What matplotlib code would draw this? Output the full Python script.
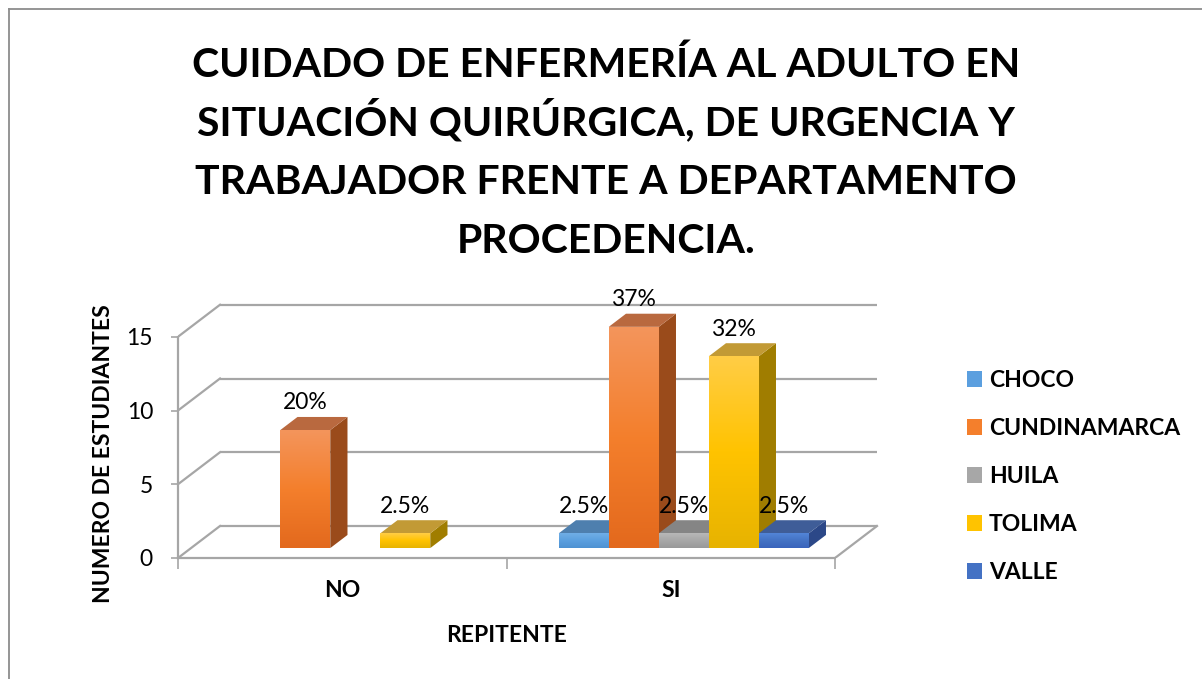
import numpy as np
import matplotlib
matplotlib.use("Agg")
import matplotlib.pyplot as plt
from matplotlib.patches import Polygon
from matplotlib.colors import LinearSegmentedColormap
from matplotlib.lines import Line2D
from matplotlib.font_manager import FontProperties

# ---- data -------------------------------------------------------------
categories = ["NO", "SI"]
series_names = ["CHOCO", "CUNDINAMARCA", "HUILA", "TOLIMA", "VALLE"]

choco = [0, 1]
cundinamarca = [8, 15]
huila = [0, 1]
tolima = [1, 13]
valle = [0, 1]

choco_pct = [0, 2.5]
cundinamarca_pct = [20, 37]
huila_pct = [0, 2.5]
tolima_pct = [2.5, 32]
valle_pct = [0, 2.5]

y_ticks = [0, 5, 10, 15]

title_lines = ["CUIDADO DE ENFERMERÍA AL ADULTO EN",
               "SITUACIÓN QUIRÚRGICA, DE URGENCIA Y",
               "TRABAJADOR FRENTE A DEPARTAMENTO",
               "PROCEDENCIA."]
x_title = "REPITENTE"
y_title = "NUMERO DE ESTUDIANTES"

values = [choco, cundinamarca, huila, tolima, valle]
pcts = [choco_pct, cundinamarca_pct, huila_pct, tolima_pct, valle_pct]

# face colours: (front top, front middle, front bottom, top face, side face)
styles = [
    ("#70AEE6", "#5B9FDF", "#4E92D2", "#4E7FAE", "#3E6C9A"),
    ("#F3955C", "#F47F2C", "#E3691D", "#B9693F", "#9A4B1B"),
    ("#B8B8B8", "#A7A7A7", "#999999", "#858585", "#6F6F6F"),
    ("#FFCD46", "#FFC300", "#E7B300", "#C29A35", "#A07D00"),
    ("#5285D8", "#4472C4", "#3A64BC", "#3F5D98", "#2C4888"),
]

# ---- figure / axes layout (pixel based) -------------------------------
W, H = 1202, 679
fig = plt.figure(figsize=(W / 100, H / 100), dpi=100)
fig.patch.set_facecolor("white")

AX_L, AX_R, AX_T, AX_B = 178, 880, 296, 558
PX_X = 328.5      # pixels per category step
PX_Y = 14.75      # pixels per student
ax = fig.add_axes([AX_L / W, 1 - AX_B / H, (AX_R - AX_L) / W, (AX_B - AX_T) / H])
xmin, xmax = -0.5, -0.5 + (AX_R - AX_L) / PX_X
ymin, ymax = 0, (AX_B - AX_T) / PX_Y

DX = 42 / PX_X    # depth of the plot box, in data units
DY = 32 / PX_Y
F0, F1 = 0.31, 0.72   # front / back depth fraction of the bars
BW = 50 / PX_X        # bar width

grid_c = "#A6A6A6"
grid_lw = 1.6

# back wall gridlines and side-wall diagonals
x_front_l, x_front_r = -0.5, len(categories) - 0.5
for v in y_ticks:
    ax.plot([x_front_l + DX, x_front_r + DX], [v + DY, v + DY],
            color=grid_c, lw=grid_lw, solid_capstyle="butt", zorder=1)
    ax.plot([x_front_l, x_front_l + DX], [v, v + DY],
            color=grid_c, lw=grid_lw, zorder=1)
# right edge of the floor
ax.plot([x_front_r, x_front_r + DX], [0, DY], color=grid_c, lw=grid_lw, zorder=1)

# ---- bars ---------------------------------------------------------------
ddx = (F1 - F0) * DX
ddy = (F1 - F0) * DY
y_base = F0 * DY
handles = []
label_font = FontProperties(family="Lato", size=16.5)
for i, (name, vals, pc, st) in enumerate(zip(series_names, values, pcts, styles)):
    ctop, cmid, cbot, ctopface, cside = st
    lefts = [c - 2.5 * BW + i * BW + F0 * DX for c in range(len(categories))]
    heights = [v if v > 0 else np.nan for v in vals]
    bars = ax.bar(lefts, heights, width=BW, bottom=y_base, align="edge",
                  color=cmid, linewidth=0, zorder=3, label=name)
    handles.append(bars)
    cmap = LinearSegmentedColormap.from_list(name, [cbot, cmid, ctop])
    for rect, v, p in zip(bars.patches, vals, pc):
        if not v > 0:
            continue
        xl = rect.get_x()
        xr = xl + BW
        y0 = y_base
        y1 = y_base + v
        # vertical gradient on the front face
        grad = np.linspace(0, 1, 256).reshape(-1, 1)
        im = ax.imshow(grad, extent=[xl, xr, y0, y1], origin="lower",
                       cmap=cmap, aspect="auto", zorder=3.1,
                       interpolation="bilinear")
        im.set_clip_path(rect)
        # side face
        ax.add_patch(Polygon([(xr, y0), (xr + ddx, y0 + ddy),
                              (xr + ddx, y1 + ddy), (xr, y1)],
                             closed=True, facecolor=cside, edgecolor="none",
                             zorder=2.9))
        # top face
        ax.add_patch(Polygon([(xl, y1), (xr, y1), (xr + ddx, y1 + ddy),
                              (xl + ddx, y1 + ddy)],
                             closed=True, facecolor=ctopface, edgecolor="none",
                             zorder=2.9))
        ax.annotate(f"{p:g}%", xy=(xl + BW / 2, y1), xytext=(0, 19.5),
                    textcoords="offset points", ha="center", va="center",
                    fontproperties=label_font, color="black", zorder=5)

# ---- axes styling --------------------------------------------------------
ax.set_xlim(xmin, xmax)
ax.set_ylim(ymin, ymax)
for s in ("top", "right"):
    ax.spines[s].set_visible(False)
for s in ("left", "bottom"):
    ax.spines[s].set_color(grid_c)
    ax.spines[s].set_linewidth(grid_lw)
ax.spines["left"].set_bounds(0, y_ticks[-1])
ax.spines["bottom"].set_bounds(x_front_l, x_front_r)

tick_font = FontProperties(family="Lato", size=16.5)
cat_font = FontProperties(family="Lato", weight="bold", size=16.5)
ax.set_yticks(y_ticks)
ax.set_yticklabels([str(t) for t in y_ticks], fontproperties=tick_font)
ax.tick_params(axis="y", direction="out", length=5, width=1.2,
               color=grid_c, pad=13)

ax.set_xticks(np.arange(len(categories) + 1) - 0.5)
ax.set_xticklabels([])
ax.tick_params(axis="x", which="major", direction="out", length=8,
               width=1.2, color=grid_c)
ax.set_xticks(np.arange(len(categories)), minor=True)
ax.set_xticklabels(categories, minor=True, fontproperties=cat_font)
ax.tick_params(axis="x", which="minor", length=0, pad=16)

ax.set_xlabel(x_title, fontproperties=cat_font)
ax.xaxis.set_label_coords((506.5 - AX_L) / (AX_R - AX_L), (AX_B - 642) / (AX_B - AX_T))
ax.xaxis.label.set_va("baseline")

ax.set_ylabel(y_title, fontproperties=cat_font)
ax.yaxis.label.set(va="baseline", ha="center", rotation_mode="anchor")
ax.yaxis.set_label_coords((110 - AX_L) / (AX_R - AX_L), (AX_B - 454) / (AX_B - AX_T))

ax.set_facecolor("none")

# ---- legend --------------------------------------------------------------
leg = ax.legend(handles, series_names, loc="upper left",
                bbox_to_anchor=(967 / W, 1 - 370 / H),
                bbox_transform=fig.transFigure, frameon=False,
                prop=FontProperties(family="Lato", weight="bold", size=16.5),
                handlelength=0.66, handleheight=0.66, handletextpad=0.3,
                labelspacing=1.18, borderpad=0, borderaxespad=0)

# ---- title: one line per row, evenly spaced baselines -------------------------
title_font = FontProperties(family="Lato", weight="bold", size=29.5)
for k, line in enumerate(title_lines):
    fig.text(606 / W, 1 - (77 + 58.7 * k) / H, line, ha="center",
             va="baseline", fontproperties=title_font)

# ---- chart border (top and left edges) -------------------------------------
fig.add_artist(Line2D([9 / W, 1], [1 - 9 / H, 1 - 9 / H], color="#8C8C8C",
                      lw=1.3, transform=fig.transFigure))
fig.add_artist(Line2D([9 / W, 9 / W], [0, 1 - 9 / H], color="#8C8C8C",
                      lw=1.3, transform=fig.transFigure))

fig.savefig("out.png", dpi=100, facecolor="white")
